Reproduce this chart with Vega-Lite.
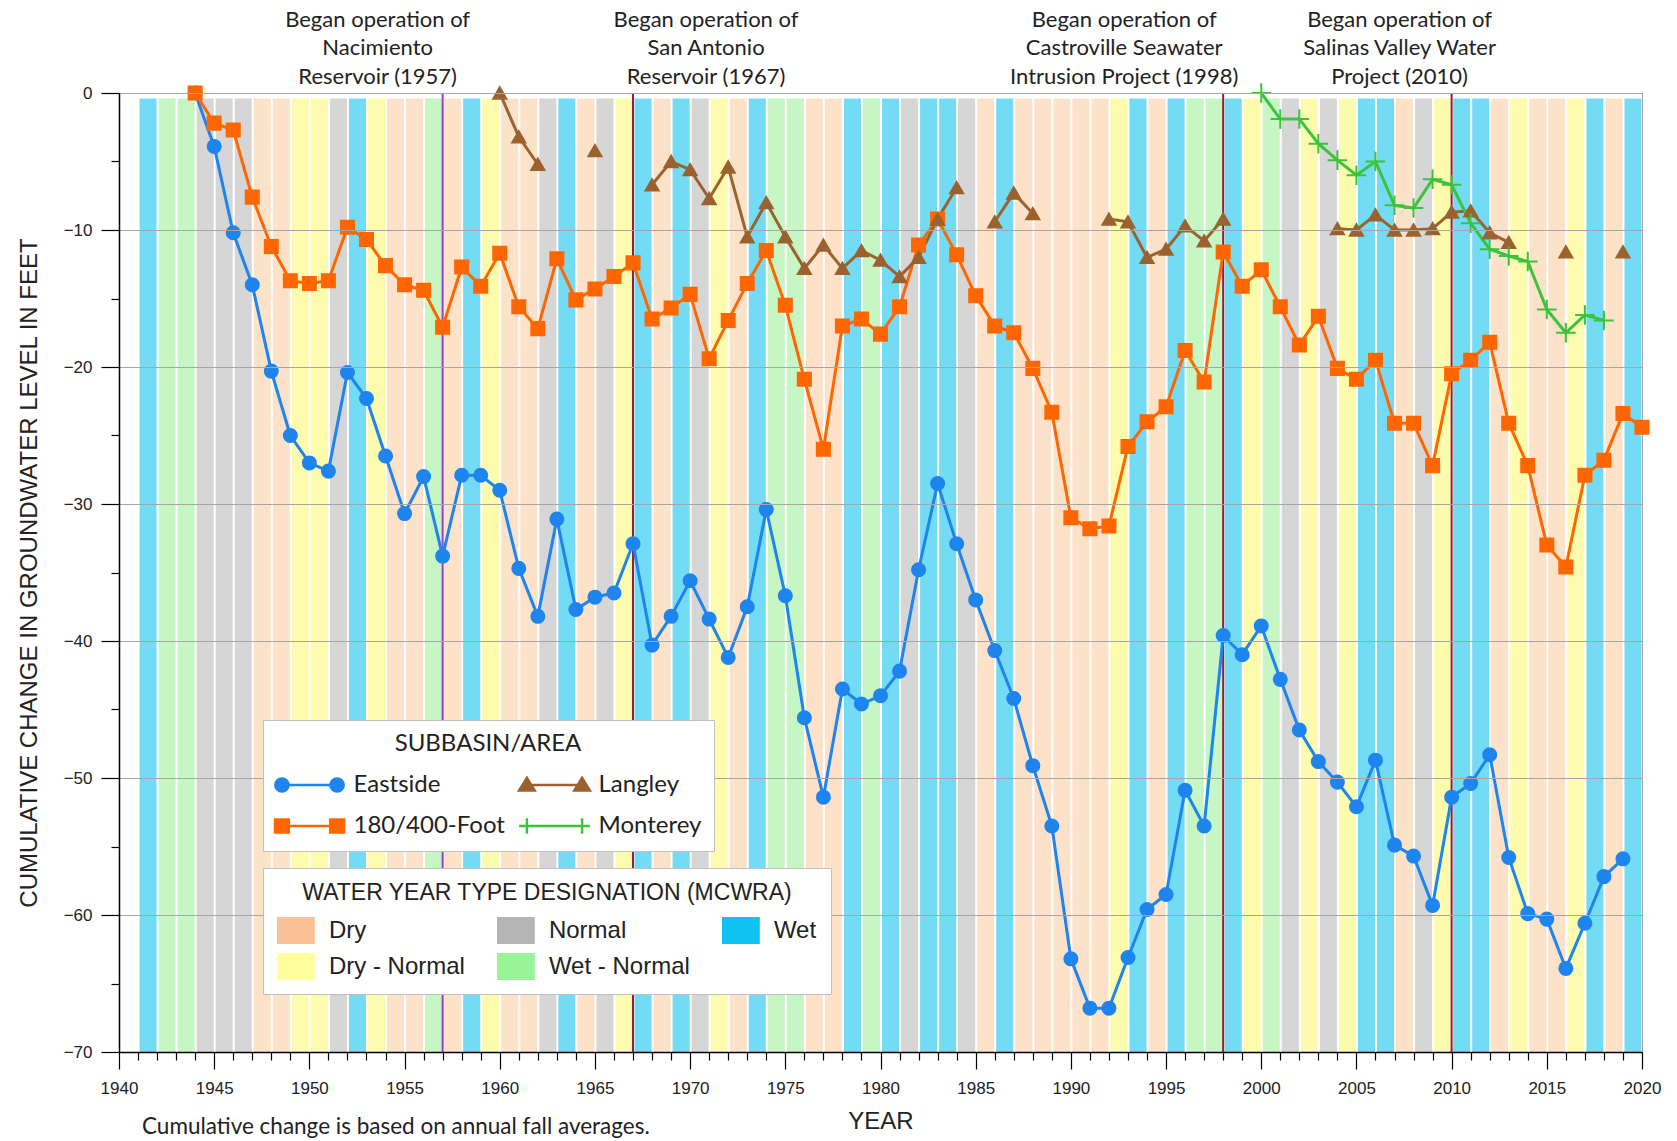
{
  "$schema": "https://vega.github.io/schema/vega-lite/v6.json",
  "width": 1523,
  "height": 959,
  "autosize": {"type": "none"},
  "padding": {"left": 119, "top": 93, "right": 35, "bottom": 89},
  "background": "white",
  "config": {"view": {"stroke": "#a6a6a6", "strokeWidth": 1}, "font": "Liberation Sans"},
  "title": {"text": "Cumulative change is based on annual fall averages.", "orient": "bottom", "anchor": "start", "frame": "group", "dx": 23, "offset": -17, "font": "Lato", "fontSize": 22.5, "fontWeight": "normal", "color": "#222222"},
  "datasets": {
    "years": [
      {"year": 1941, "type": "Wet"}, {"year": 1942, "type": "Wet - Normal"}, {"year": 1943, "type": "Wet - Normal"},
      {"year": 1944, "type": "Normal"}, {"year": 1945, "type": "Normal"}, {"year": 1946, "type": "Normal"},
      {"year": 1947, "type": "Dry"}, {"year": 1948, "type": "Dry"}, {"year": 1949, "type": "Dry - Normal"},
      {"year": 1950, "type": "Dry - Normal"}, {"year": 1951, "type": "Normal"}, {"year": 1952, "type": "Wet"},
      {"year": 1953, "type": "Dry - Normal"}, {"year": 1954, "type": "Dry"}, {"year": 1955, "type": "Dry"},
      {"year": 1956, "type": "Wet - Normal"}, {"year": 1957, "type": "Dry"}, {"year": 1958, "type": "Wet"},
      {"year": 1959, "type": "Dry - Normal"}, {"year": 1960, "type": "Dry"}, {"year": 1961, "type": "Dry"},
      {"year": 1962, "type": "Normal"}, {"year": 1963, "type": "Wet"}, {"year": 1964, "type": "Dry"},
      {"year": 1965, "type": "Normal"}, {"year": 1966, "type": "Dry - Normal"}, {"year": 1967, "type": "Wet"},
      {"year": 1968, "type": "Dry"}, {"year": 1969, "type": "Wet"}, {"year": 1970, "type": "Normal"},
      {"year": 1971, "type": "Dry - Normal"}, {"year": 1972, "type": "Dry"}, {"year": 1973, "type": "Wet"},
      {"year": 1974, "type": "Wet - Normal"}, {"year": 1975, "type": "Wet - Normal"}, {"year": 1976, "type": "Dry"},
      {"year": 1977, "type": "Dry"}, {"year": 1978, "type": "Wet"}, {"year": 1979, "type": "Wet - Normal"},
      {"year": 1980, "type": "Wet"}, {"year": 1981, "type": "Normal"}, {"year": 1982, "type": "Wet"},
      {"year": 1983, "type": "Wet"}, {"year": 1984, "type": "Normal"}, {"year": 1985, "type": "Dry"},
      {"year": 1986, "type": "Wet"}, {"year": 1987, "type": "Dry"}, {"year": 1988, "type": "Dry"},
      {"year": 1989, "type": "Dry"}, {"year": 1990, "type": "Dry"}, {"year": 1991, "type": "Dry"},
      {"year": 1992, "type": "Dry - Normal"}, {"year": 1993, "type": "Wet"}, {"year": 1994, "type": "Dry"},
      {"year": 1995, "type": "Wet"}, {"year": 1996, "type": "Wet - Normal"}, {"year": 1997, "type": "Wet - Normal"},
      {"year": 1998, "type": "Wet"}, {"year": 1999, "type": "Dry - Normal"}, {"year": 2000, "type": "Wet - Normal"},
      {"year": 2001, "type": "Normal"}, {"year": 2002, "type": "Dry - Normal"}, {"year": 2003, "type": "Normal"},
      {"year": 2004, "type": "Dry - Normal"}, {"year": 2005, "type": "Wet"}, {"year": 2006, "type": "Wet"},
      {"year": 2007, "type": "Dry"}, {"year": 2008, "type": "Normal"}, {"year": 2009, "type": "Dry - Normal"},
      {"year": 2010, "type": "Wet"}, {"year": 2011, "type": "Wet"}, {"year": 2012, "type": "Dry"},
      {"year": 2013, "type": "Dry - Normal"}, {"year": 2014, "type": "Dry"}, {"year": 2015, "type": "Dry"},
      {"year": 2016, "type": "Dry - Normal"}, {"year": 2017, "type": "Wet"}, {"year": 2018, "type": "Dry"},
      {"year": 2019, "type": "Wet"}
    ],
    "events": [
      {"year": 1957, "label": ["Began operation of", "Nacimiento", "Reservoir (1957)"]},
      {"year": 1967, "label": ["Began operation of", "San Antonio", "Reservoir (1967)"]},
      {"year": 1998, "label": ["Began operation of", "Castroville Seawater", "Intrusion Project (1998)"]},
      {"year": 2010, "label": ["Began operation of", "Salinas Valley Water", "Project (2010)"]}
    ],
    "levels": [
      {"year": 1944, "series": "Eastside", "value": 0}, {"year": 1945, "series": "Eastside", "value": -3.9},
      {"year": 1946, "series": "Eastside", "value": -10.2}, {"year": 1947, "series": "Eastside", "value": -14.0},
      {"year": 1948, "series": "Eastside", "value": -20.3}, {"year": 1949, "series": "Eastside", "value": -25.0},
      {"year": 1950, "series": "Eastside", "value": -27.0}, {"year": 1951, "series": "Eastside", "value": -27.6},
      {"year": 1952, "series": "Eastside", "value": -20.4}, {"year": 1953, "series": "Eastside", "value": -22.3},
      {"year": 1954, "series": "Eastside", "value": -26.5}, {"year": 1955, "series": "Eastside", "value": -30.7},
      {"year": 1956, "series": "Eastside", "value": -28.0}, {"year": 1957, "series": "Eastside", "value": -33.8},
      {"year": 1958, "series": "Eastside", "value": -27.9}, {"year": 1959, "series": "Eastside", "value": -27.9},
      {"year": 1960, "series": "Eastside", "value": -29.0}, {"year": 1961, "series": "Eastside", "value": -34.7},
      {"year": 1962, "series": "Eastside", "value": -38.2}, {"year": 1963, "series": "Eastside", "value": -31.1},
      {"year": 1964, "series": "Eastside", "value": -37.7}, {"year": 1965, "series": "Eastside", "value": -36.8},
      {"year": 1966, "series": "Eastside", "value": -36.5}, {"year": 1967, "series": "Eastside", "value": -32.9},
      {"year": 1968, "series": "Eastside", "value": -40.3}, {"year": 1969, "series": "Eastside", "value": -38.2},
      {"year": 1970, "series": "Eastside", "value": -35.6}, {"year": 1971, "series": "Eastside", "value": -38.4},
      {"year": 1972, "series": "Eastside", "value": -41.2}, {"year": 1973, "series": "Eastside", "value": -37.5},
      {"year": 1974, "series": "Eastside", "value": -30.4}, {"year": 1975, "series": "Eastside", "value": -36.7},
      {"year": 1976, "series": "Eastside", "value": -45.6}, {"year": 1977, "series": "Eastside", "value": -51.4},
      {"year": 1978, "series": "Eastside", "value": -43.5}, {"year": 1979, "series": "Eastside", "value": -44.6},
      {"year": 1980, "series": "Eastside", "value": -44.0}, {"year": 1981, "series": "Eastside", "value": -42.2},
      {"year": 1982, "series": "Eastside", "value": -34.8}, {"year": 1983, "series": "Eastside", "value": -28.5},
      {"year": 1984, "series": "Eastside", "value": -32.9}, {"year": 1985, "series": "Eastside", "value": -37.0},
      {"year": 1986, "series": "Eastside", "value": -40.7}, {"year": 1987, "series": "Eastside", "value": -44.2},
      {"year": 1988, "series": "Eastside", "value": -49.1}, {"year": 1989, "series": "Eastside", "value": -53.5},
      {"year": 1990, "series": "Eastside", "value": -63.2}, {"year": 1991, "series": "Eastside", "value": -66.8},
      {"year": 1992, "series": "Eastside", "value": -66.8}, {"year": 1993, "series": "Eastside", "value": -63.1},
      {"year": 1994, "series": "Eastside", "value": -59.6}, {"year": 1995, "series": "Eastside", "value": -58.5},
      {"year": 1996, "series": "Eastside", "value": -50.9}, {"year": 1997, "series": "Eastside", "value": -53.5},
      {"year": 1998, "series": "Eastside", "value": -39.6}, {"year": 1999, "series": "Eastside", "value": -41.0},
      {"year": 2000, "series": "Eastside", "value": -38.9}, {"year": 2001, "series": "Eastside", "value": -42.8},
      {"year": 2002, "series": "Eastside", "value": -46.5}, {"year": 2003, "series": "Eastside", "value": -48.8},
      {"year": 2004, "series": "Eastside", "value": -50.3}, {"year": 2005, "series": "Eastside", "value": -52.1},
      {"year": 2006, "series": "Eastside", "value": -48.7}, {"year": 2007, "series": "Eastside", "value": -54.9},
      {"year": 2008, "series": "Eastside", "value": -55.7}, {"year": 2009, "series": "Eastside", "value": -59.3},
      {"year": 2010, "series": "Eastside", "value": -51.4}, {"year": 2011, "series": "Eastside", "value": -50.4},
      {"year": 2012, "series": "Eastside", "value": -48.3}, {"year": 2013, "series": "Eastside", "value": -55.8},
      {"year": 2014, "series": "Eastside", "value": -59.9}, {"year": 2015, "series": "Eastside", "value": -60.3},
      {"year": 2016, "series": "Eastside", "value": -63.9}, {"year": 2017, "series": "Eastside", "value": -60.6},
      {"year": 2018, "series": "Eastside", "value": -57.2}, {"year": 2019, "series": "Eastside", "value": -55.9},

      {"year": 1944, "series": "180/400-Foot", "value": 0}, {"year": 1945, "series": "180/400-Foot", "value": -2.2},
      {"year": 1946, "series": "180/400-Foot", "value": -2.7}, {"year": 1947, "series": "180/400-Foot", "value": -7.6},
      {"year": 1948, "series": "180/400-Foot", "value": -11.2}, {"year": 1949, "series": "180/400-Foot", "value": -13.7},
      {"year": 1950, "series": "180/400-Foot", "value": -13.9}, {"year": 1951, "series": "180/400-Foot", "value": -13.7},
      {"year": 1952, "series": "180/400-Foot", "value": -9.8}, {"year": 1953, "series": "180/400-Foot", "value": -10.7},
      {"year": 1954, "series": "180/400-Foot", "value": -12.6}, {"year": 1955, "series": "180/400-Foot", "value": -14.0},
      {"year": 1956, "series": "180/400-Foot", "value": -14.4}, {"year": 1957, "series": "180/400-Foot", "value": -17.1},
      {"year": 1958, "series": "180/400-Foot", "value": -12.7}, {"year": 1959, "series": "180/400-Foot", "value": -14.1},
      {"year": 1960, "series": "180/400-Foot", "value": -11.7}, {"year": 1961, "series": "180/400-Foot", "value": -15.6},
      {"year": 1962, "series": "180/400-Foot", "value": -17.2}, {"year": 1963, "series": "180/400-Foot", "value": -12.1},
      {"year": 1964, "series": "180/400-Foot", "value": -15.1}, {"year": 1965, "series": "180/400-Foot", "value": -14.3},
      {"year": 1966, "series": "180/400-Foot", "value": -13.4}, {"year": 1967, "series": "180/400-Foot", "value": -12.4},
      {"year": 1968, "series": "180/400-Foot", "value": -16.5}, {"year": 1969, "series": "180/400-Foot", "value": -15.7},
      {"year": 1970, "series": "180/400-Foot", "value": -14.7}, {"year": 1971, "series": "180/400-Foot", "value": -19.4},
      {"year": 1972, "series": "180/400-Foot", "value": -16.6}, {"year": 1973, "series": "180/400-Foot", "value": -13.9},
      {"year": 1974, "series": "180/400-Foot", "value": -11.5}, {"year": 1975, "series": "180/400-Foot", "value": -15.5},
      {"year": 1976, "series": "180/400-Foot", "value": -20.9}, {"year": 1977, "series": "180/400-Foot", "value": -26.0},
      {"year": 1978, "series": "180/400-Foot", "value": -17.0}, {"year": 1979, "series": "180/400-Foot", "value": -16.5},
      {"year": 1980, "series": "180/400-Foot", "value": -17.6}, {"year": 1981, "series": "180/400-Foot", "value": -15.6},
      {"year": 1982, "series": "180/400-Foot", "value": -11.1}, {"year": 1983, "series": "180/400-Foot", "value": -9.2},
      {"year": 1984, "series": "180/400-Foot", "value": -11.8}, {"year": 1985, "series": "180/400-Foot", "value": -14.8},
      {"year": 1986, "series": "180/400-Foot", "value": -17.0}, {"year": 1987, "series": "180/400-Foot", "value": -17.5},
      {"year": 1988, "series": "180/400-Foot", "value": -20.1}, {"year": 1989, "series": "180/400-Foot", "value": -23.3},
      {"year": 1990, "series": "180/400-Foot", "value": -31.0}, {"year": 1991, "series": "180/400-Foot", "value": -31.8},
      {"year": 1992, "series": "180/400-Foot", "value": -31.6}, {"year": 1993, "series": "180/400-Foot", "value": -25.8},
      {"year": 1994, "series": "180/400-Foot", "value": -24.0}, {"year": 1995, "series": "180/400-Foot", "value": -22.9},
      {"year": 1996, "series": "180/400-Foot", "value": -18.8}, {"year": 1997, "series": "180/400-Foot", "value": -21.1},
      {"year": 1998, "series": "180/400-Foot", "value": -11.6}, {"year": 1999, "series": "180/400-Foot", "value": -14.1},
      {"year": 2000, "series": "180/400-Foot", "value": -12.9}, {"year": 2001, "series": "180/400-Foot", "value": -15.6},
      {"year": 2002, "series": "180/400-Foot", "value": -18.4}, {"year": 2003, "series": "180/400-Foot", "value": -16.3},
      {"year": 2004, "series": "180/400-Foot", "value": -20.1}, {"year": 2005, "series": "180/400-Foot", "value": -20.9},
      {"year": 2006, "series": "180/400-Foot", "value": -19.5}, {"year": 2007, "series": "180/400-Foot", "value": -24.1},
      {"year": 2008, "series": "180/400-Foot", "value": -24.1}, {"year": 2009, "series": "180/400-Foot", "value": -27.2},
      {"year": 2010, "series": "180/400-Foot", "value": -20.5}, {"year": 2011, "series": "180/400-Foot", "value": -19.5},
      {"year": 2012, "series": "180/400-Foot", "value": -18.2}, {"year": 2013, "series": "180/400-Foot", "value": -24.1},
      {"year": 2014, "series": "180/400-Foot", "value": -27.2}, {"year": 2015, "series": "180/400-Foot", "value": -33.0},
      {"year": 2016, "series": "180/400-Foot", "value": -34.6}, {"year": 2017, "series": "180/400-Foot", "value": -27.9},
      {"year": 2018, "series": "180/400-Foot", "value": -26.8}, {"year": 2019, "series": "180/400-Foot", "value": -23.4},
      {"year": 2020, "series": "180/400-Foot", "value": -24.4},

      {"year": 1960, "series": "Langley", "value": 0}, {"year": 1961, "series": "Langley", "value": -3.2},
      {"year": 1962, "series": "Langley", "value": -5.2}, {"year": 1963, "series": "Langley", "value": null},
      {"year": 1964, "series": "Langley", "value": null}, {"year": 1965, "series": "Langley", "value": -4.2},
      {"year": 1966, "series": "Langley", "value": null}, {"year": 1967, "series": "Langley", "value": null},
      {"year": 1968, "series": "Langley", "value": -6.7}, {"year": 1969, "series": "Langley", "value": -5.0},
      {"year": 1970, "series": "Langley", "value": -5.6}, {"year": 1971, "series": "Langley", "value": -7.7},
      {"year": 1972, "series": "Langley", "value": -5.4}, {"year": 1973, "series": "Langley", "value": -10.5},
      {"year": 1974, "series": "Langley", "value": -8.0}, {"year": 1975, "series": "Langley", "value": -10.5},
      {"year": 1976, "series": "Langley", "value": -12.8}, {"year": 1977, "series": "Langley", "value": -11.1},
      {"year": 1978, "series": "Langley", "value": -12.8}, {"year": 1979, "series": "Langley", "value": -11.5},
      {"year": 1980, "series": "Langley", "value": -12.2}, {"year": 1981, "series": "Langley", "value": -13.4},
      {"year": 1982, "series": "Langley", "value": -12.0}, {"year": 1983, "series": "Langley", "value": -9.2},
      {"year": 1984, "series": "Langley", "value": -6.9}, {"year": 1985, "series": "Langley", "value": null},
      {"year": 1986, "series": "Langley", "value": -9.4}, {"year": 1987, "series": "Langley", "value": -7.3},
      {"year": 1988, "series": "Langley", "value": -8.8}, {"year": 1989, "series": "Langley", "value": null},
      {"year": 1990, "series": "Langley", "value": null}, {"year": 1991, "series": "Langley", "value": null},
      {"year": 1992, "series": "Langley", "value": -9.2}, {"year": 1993, "series": "Langley", "value": -9.4},
      {"year": 1994, "series": "Langley", "value": -12.0}, {"year": 1995, "series": "Langley", "value": -11.4},
      {"year": 1996, "series": "Langley", "value": -9.7}, {"year": 1997, "series": "Langley", "value": -10.8},
      {"year": 1998, "series": "Langley", "value": -9.2}, {"year": 1999, "series": "Langley", "value": null},
      {"year": 2000, "series": "Langley", "value": null}, {"year": 2001, "series": "Langley", "value": null},
      {"year": 2002, "series": "Langley", "value": null}, {"year": 2003, "series": "Langley", "value": null},
      {"year": 2004, "series": "Langley", "value": -9.9}, {"year": 2005, "series": "Langley", "value": -10.0},
      {"year": 2006, "series": "Langley", "value": -8.9}, {"year": 2007, "series": "Langley", "value": -10.0},
      {"year": 2008, "series": "Langley", "value": -10.0}, {"year": 2009, "series": "Langley", "value": -9.9},
      {"year": 2010, "series": "Langley", "value": -8.7}, {"year": 2011, "series": "Langley", "value": -8.6},
      {"year": 2012, "series": "Langley", "value": -10.2}, {"year": 2013, "series": "Langley", "value": -10.9},
      {"year": 2014, "series": "Langley", "value": null}, {"year": 2015, "series": "Langley", "value": null},
      {"year": 2016, "series": "Langley", "value": -11.6}, {"year": 2017, "series": "Langley", "value": null},
      {"year": 2018, "series": "Langley", "value": null}, {"year": 2019, "series": "Langley", "value": -11.6},

      {"year": 2000, "series": "Monterey", "value": 0}, {"year": 2001, "series": "Monterey", "value": -1.9},
      {"year": 2002, "series": "Monterey", "value": -1.9}, {"year": 2003, "series": "Monterey", "value": -3.7},
      {"year": 2004, "series": "Monterey", "value": -4.9}, {"year": 2005, "series": "Monterey", "value": -6.0},
      {"year": 2006, "series": "Monterey", "value": -5.0}, {"year": 2007, "series": "Monterey", "value": -8.2},
      {"year": 2008, "series": "Monterey", "value": -8.4}, {"year": 2009, "series": "Monterey", "value": -6.3},
      {"year": 2010, "series": "Monterey", "value": -6.7}, {"year": 2011, "series": "Monterey", "value": -9.5},
      {"year": 2012, "series": "Monterey", "value": -11.4}, {"year": 2013, "series": "Monterey", "value": -11.9},
      {"year": 2014, "series": "Monterey", "value": -12.3}, {"year": 2015, "series": "Monterey", "value": -15.8},
      {"year": 2016, "series": "Monterey", "value": -17.5}, {"year": 2017, "series": "Monterey", "value": -16.2},
      {"year": 2018, "series": "Monterey", "value": -16.6}
    ]
  },
  "layer": [
    {
      "data": {"name": "years"},
      "mark": {"type": "bar", "binSpacing": 2},
      "encoding": {
        "x": {
          "field": "year", "type": "quantitative",
          "bin": {"step": 1, "extent": [1940, 2020]},
          "scale": {"domain": [1940, 2020], "nice": false, "zero": false},
          "title": "YEAR",
          "axis": {
            "values": [1940,1941,1942,1943,1944,1945,1946,1947,1948,1949,1950,1951,1952,1953,1954,1955,1956,1957,1958,1959,1960,1961,1962,1963,1964,1965,1966,1967,1968,1969,1970,1971,1972,1973,1974,1975,1976,1977,1978,1979,1980,1981,1982,1983,1984,1985,1986,1987,1988,1989,1990,1991,1992,1993,1994,1995,1996,1997,1998,1999,2000,2001,2002,2003,2004,2005,2006,2007,2008,2009,2010,2011,2012,2013,2014,2015,2016,2017,2018,2019,2020],
            "format": "d",
            "labelExpr": "datum.value % 5 === 0 ? datum.label : ''",
            "tickSize": {"condition": {"test": "datum.value % 5 === 0", "value": 17}, "value": 8},
            "tickColor": "#000000", "tickWidth": 1.2,
            "domainColor": "#000000", "domainWidth": 1.5,
            "grid": false,
            "labelFont": "Liberation Sans", "labelFontSize": 17, "labelColor": "#222222", "labelPadding": 11,
            "labelOverlap": false, "labelFlush": false,
            "titleFont": "Liberation Sans", "titleFontSize": 24, "titleFontWeight": "normal", "titleColor": "#222222", "titlePadding": 13,
            "zindex": 1
          }
        },
        "y": {"datum": -0.4, "type": "quantitative"},
        "y2": {"datum": -70},
        "color": {
          "field": "type", "type": "nominal",
          "scale": {"domain": ["Dry", "Dry - Normal", "Normal", "Wet - Normal", "Wet"], "range": ["#fde2ca", "#fdfcae", "#d6d6d6", "#c6f6c4", "#74dbf4"]},
          "legend": null
        }
      }
    },
    {
      "data": {"name": "events"},
      "mark": {"type": "rule", "strokeWidth": 2, "color": {"expr": "datum.year == 1957 ? '#a03ac8' : '#8c1f40'"}},
      "encoding": {
        "x": {"field": "year", "type": "quantitative"}
      }
    },
    {
      "data": {"name": "levels"},
      "mark": {"type": "line", "strokeWidth": 3, "invalid": "break-paths-show-domains"},
      "encoding": {
        "x": {"field": "year", "type": "quantitative"},
        "y": {
          "field": "value", "type": "quantitative",
          "scale": {"domain": [-70, 0], "nice": false, "zero": false},
          "title": "CUMULATIVE CHANGE IN GROUNDWATER LEVEL IN FEET",
          "axis": {
            "values": [-70,-65,-60,-55,-50,-45,-40,-35,-30,-25,-20,-15,-10,-5,0],
            "format": "d",
            "labelExpr": "datum.value % 10 === 0 ? datum.label : ''",
            "tickSize": {"condition": {"test": "datum.value % 10 === 0", "value": 18}, "value": 8},
            "tickColor": "#000000", "tickWidth": 1.2,
            "domainColor": "#000000", "domainWidth": 1.5,
            "grid": true, "gridColor": "#a6a6a6", "gridWidth": 1,
            "gridOpacity": {"condition": {"test": "datum.value % 10 === 0", "value": 1}, "value": 0},
            "labelFont": "Liberation Sans", "labelFontSize": 17, "labelColor": "#222222", "labelPadding": 9,
            "labelOverlap": false, "labelFlush": false,
            "titleFont": "Liberation Sans", "titleFontSize": 24, "titleFontWeight": "normal", "titleColor": "#222222", "titlePadding": 22,
            "zindex": 1
          }
        },
        "color": {
          "field": "series", "type": "nominal",
          "scale": {"domain": ["Eastside", "180/400-Foot", "Langley", "Monterey"], "range": ["#1e84ee", "#ff6600", "#9b6230", "#3cc33c"]},
          "legend": null
        }
      }
    },
    {
      "data": {"name": "levels"},
      "mark": {"type": "point", "filled": true, "size": 170, "strokeWidth": 2, "opacity": 1},
      "encoding": {
        "x": {"field": "year", "type": "quantitative"},
        "y": {"field": "value", "type": "quantitative"},
        "color": {
          "field": "series", "type": "nominal",
          "scale": {"domain": ["Eastside", "180/400-Foot", "Langley", "Monterey"], "range": ["#1e84ee", "#ff6600", "#9b6230", "#3cc33c"]},
          "legend": null
        },
        "stroke": {
          "field": "series", "type": "nominal",
          "scale": {"domain": ["Eastside", "180/400-Foot", "Langley", "Monterey"], "range": ["#1e84ee", "#ff6600", "#9b6230", "#3cc33c"]},
          "legend": null
        },
        "shape": {
          "field": "series", "type": "nominal",
          "scale": {"domain": ["Eastside", "180/400-Foot", "Langley", "Monterey"], "range": ["circle", "square", "triangle-up", "M-1.5,0H1.5M0,-1.5V1.5"]},
          "legend": null
        }
      }
    },
    {
      "data": {"name": "events"},
      "mark": {
        "type": "text", "align": "center", "baseline": "bottom",
        "font": "Lato", "fontSize": 22, "lineHeight": 28.4, "color": "#222222",
        "dx": {"expr": "datum.year == 1957 ? -65 : datum.year == 1967 ? 73 : datum.year == 1998 ? -99 : -52"}
      },
      "encoding": {
        "x": {"field": "year", "type": "quantitative"},
        "y": {"datum": 4.46},
        "text": {"field": "label"}
      }
    },
    {
      "data": {"name": "years"},
      "transform": [{"filter": "false"}],
      "mark": {"type": "square", "opacity": 1},
      "encoding": {
        "x": {"field": "year", "type": "quantitative"},
        "color": {
          "field": "type", "type": "nominal",
          "scale": {"domain": ["Dry", "Dry - Normal", "Normal", "Wet - Normal", "Wet"], "range": ["#fac294", "#ffff9e", "#b5b5b5", "#97f597", "#10c2f2"]},
          "legend": {
            "title": "WATER YEAR TYPE DESIGNATION (MCWRA)",
            "orient": "none", "legendX": 144, "legendY": 775,
            "columns": 3, "columnPadding": 32, "rowPadding": 9, "padding": 14,
            "fillColor": "#ffffff", "strokeColor": "#c0c0c0",
            "titleAnchor": "middle", "titleFont": "Liberation Sans", "titleFontSize": 23, "titleFontWeight": "normal", "titleColor": "#222222", "titlePadding": 12, "titleLimit": 800,
            "labelFont": "Liberation Sans", "labelFontSize": 24, "labelColor": "#222222", "labelLimit": 300,
            "symbolType": "M-1.4,-1H1.4V1H-1.4Z", "symbolSize": 729, "symbolOffset": 5.4, "labelOffset": 19.5, "symbolStrokeWidth": 0,
            "zindex": 2
          }
        }
      }
    },
    {
      "data": {"name": "levels"},
      "transform": [{"filter": "false"}],
      "mark": {"type": "point", "filled": true, "size": 144, "strokeWidth": 2.5, "opacity": 1},
      "encoding": {
        "x": {"field": "year", "type": "quantitative"},
        "y": {"field": "value", "type": "quantitative"},
        "fill": {
          "field": "series", "type": "nominal",
          "scale": {"domain": ["Eastside", "180/400-Foot", "Langley", "Monterey"], "range": ["#1e84ee", "#ff6600", "#9b6230", "#3cc33c"]},
          "legend": {
            "title": "SUBBASIN/AREA", "orient": "none", "legendX": 144, "legendY": 627,
            "columns": 2, "columnPadding": 9, "rowPadding": 16, "padding": 12,
            "fillColor": "#ffffff", "strokeColor": "#c0c0c0",
            "titleAnchor": "middle", "titleFont": "Lato", "titleFontSize": 24, "titleFontWeight": "normal", "titleColor": "#222222", "titlePadding": 17, "titleLimit": 800,
            "labelFont": "Lato", "labelFontSize": 24, "labelColor": "#222222", "labelLimit": 300,
            "symbolOffset": 22.5, "labelOffset": 32, "symbolSize": 144, "symbolStrokeWidth": 2.5, "zindex": 2
          }
        },
        "stroke": {
          "field": "series", "type": "nominal",
          "scale": {"domain": ["Eastside", "180/400-Foot", "Langley", "Monterey"], "range": ["#1e84ee", "#ff6600", "#9b6230", "#3cc33c"]},
          "legend": {
            "title": "SUBBASIN/AREA", "orient": "none", "legendX": 144, "legendY": 627,
            "columns": 2, "columnPadding": 9, "rowPadding": 16, "padding": 12,
            "fillColor": "#ffffff", "strokeColor": "#c0c0c0",
            "titleAnchor": "middle", "titleFont": "Lato", "titleFontSize": 24, "titleFontWeight": "normal", "titleColor": "#222222", "titlePadding": 17, "titleLimit": 800,
            "labelFont": "Lato", "labelFontSize": 24, "labelColor": "#222222", "labelLimit": 300,
            "symbolOffset": 22.5, "labelOffset": 32, "symbolSize": 144, "symbolStrokeWidth": 2.5, "zindex": 2
          }
        },
        "shape": {
          "field": "series", "type": "nominal",
          "scale": {"domain": ["Eastside", "180/400-Foot", "Langley", "Monterey"], "range": [
            "M-4.6,0L4.6,0M-5.7,0a1.1,1.1 0 1,0 2.2,0a1.1,1.1 0 1,0 -2.2,0M3.5,0a1.1,1.1 0 1,0 2.2,0a1.1,1.1 0 1,0 -2.2,0",
            "M-4.6,0L4.6,0M-5.75,-1.1H-3.45V1.1H-5.75ZM3.45,-1.1H5.75V1.1H3.45Z",
            "M-4.6,0L4.6,0M-5.9,0.9L-4.6,-1.2L-3.3,0.9ZM3.3,0.9L4.6,-1.2L5.9,0.9Z",
            "M-4.6,0L4.6,0M-4.6,-1.3V1.3M4.6,-1.3V1.3M-5.9,0H-3.3M3.3,0H5.9"
          ]},
          "legend": {
            "title": "SUBBASIN/AREA", "orient": "none", "legendX": 144, "legendY": 627,
            "columns": 2, "columnPadding": 9, "rowPadding": 16, "padding": 12,
            "fillColor": "#ffffff", "strokeColor": "#c0c0c0",
            "titleAnchor": "middle", "titleFont": "Lato", "titleFontSize": 24, "titleFontWeight": "normal", "titleColor": "#222222", "titlePadding": 17, "titleLimit": 800,
            "labelFont": "Lato", "labelFontSize": 24, "labelColor": "#222222", "labelLimit": 300,
            "symbolOffset": 22.5, "labelOffset": 32, "symbolSize": 144, "symbolStrokeWidth": 2.5, "zindex": 2
          }
        }
      }
    }
  ],
  "resolve": {
    "scale": {"color": "independent", "fill": "independent", "stroke": "independent", "shape": "independent"},
    "legend": {"color": "independent", "fill": "independent", "stroke": "independent", "shape": "independent"}
  }
}
